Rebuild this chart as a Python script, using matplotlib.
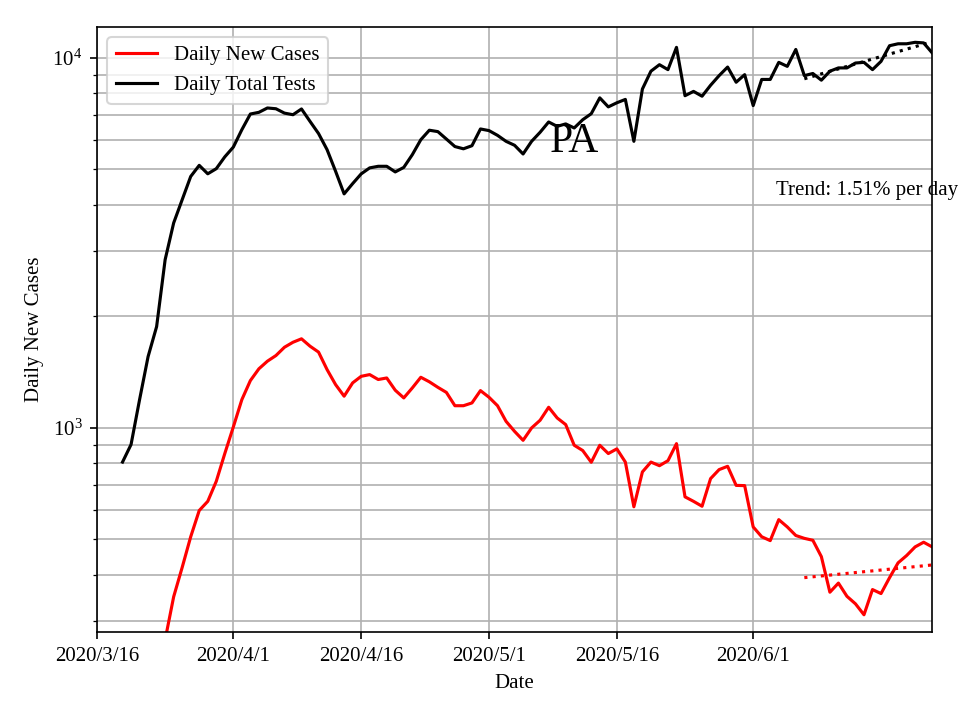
import datetime as dt
import numpy as np
import matplotlib
matplotlib.use('Agg')
import matplotlib.pyplot as plt

plt.rcParams['font.family'] = ['Liberation Serif', 'DejaVu Serif']
plt.rcParams['mathtext.fontset'] = 'stix'

# daily total tests, one value per day starting 2020/3/19
tests_start = dt.date(2020, 3, 19)
tests = [807, 900, 1190, 1556, 1875, 2844, 3574, 4131, 4773, 5115, 4853, 5010, 5393,
         5730, 6385, 7040, 7115, 7310, 7275, 7080, 7010, 7265, 6725, 6235, 5640, 4930,
         4283, 4565, 4850, 5035, 5085, 5085, 4910, 5050, 5465, 6000, 6365, 6310, 6025,
         5750, 5670, 5780, 6415,
         6350, 6165, 5940, 5795, 5490, 5940, 6285, 6700, 6520, 6620, 6455, 6795, 7055,
         7785, 7360, 7550, 7710, 5940, 8225, 9190, 9570, 9280, 10660, 7890, 8105, 7865,
         8420, 8940, 9430, 8580, 8995,
         7420, 8730, 8730, 9710, 9470, 10520, 8940, 9060, 8690, 9190, 9380, 9380, 9670,
         9710, 9280, 9770, 10770, 10900, 10900, 11000, 10960, 10300]

# daily new cases, one value per day starting 2020/3/24
cases_start = dt.date(2020, 3, 24)
cases = [267, 349, 419, 507, 597, 632, 716, 851,
         1004, 1190, 1340, 1442, 1512, 1566, 1649, 1701, 1738, 1660, 1600, 1435, 1307,
         1216, 1321, 1376, 1391, 1349, 1362, 1262, 1203, 1280, 1368, 1330, 1285, 1245,
         1146, 1146, 1166, 1259,
         1208, 1146, 1040, 977, 924, 998, 1047, 1135, 1062, 1019, 896, 867, 806, 896,
         851, 876, 807, 611, 759, 807, 789, 814, 905, 650, 632, 613, 728, 770, 786, 698,
         697,
         539, 507, 495, 564, 539, 511, 502, 496, 448, 359, 380, 350, 334, 312, 365, 356,
         393, 431, 451, 476, 490, 476]

tick_dates = [dt.date(2020, 3, 16), dt.date(2020, 4, 1), dt.date(2020, 4, 16),
              dt.date(2020, 5, 1), dt.date(2020, 5, 16), dt.date(2020, 6, 1)]
tick_labels = ['2020/3/16', '2020/4/1', '2020/4/16', '2020/5/1', '2020/5/16', '2020/6/1']

trend_days = 16

test_dates = [tests_start + dt.timedelta(days=i) for i in range(len(tests))]
case_dates = [cases_start + dt.timedelta(days=i) for i in range(len(cases))]


def trend(dates, values, n):
    d = dates[-n:]
    x = np.arange(n)
    k, b = np.polyfit(x, np.log(values[-n:]), 1)
    return d, np.exp(k * x + b)


fig, ax = plt.subplots(figsize=(6.4, 4.8), dpi=150)
fig.subplots_adjust(left=0.101, right=0.971, top=0.9625, bottom=0.122)

ax.plot(case_dates, cases, color='red', lw=1.5, label='Daily New Cases')
ax.plot(test_dates, tests, color='black', lw=1.5, label='Daily Total Tests')

td, tv = trend(case_dates, cases, trend_days)
ax.plot(td, tv, color='red', ls=':', lw=1.5)
td, tv = trend(test_dates, tests, trend_days)
ax.plot(td, tv, color='black', ls=':', lw=1.5)

ax.set_yscale('log')
ax.set_ylim(280, 12100)
ax.set_xlim(dt.date(2020, 3, 16), test_dates[-1])
ax.set_xticks(tick_dates)
ax.set_xticklabels(tick_labels)
ax.grid(True, which='both', color='#b0b0b0', lw=0.8)
ax.set_axisbelow(True)

ax.set_xlabel('Date')
ax.set_ylabel('Daily New Cases')
ax.text(0.572, 0.81, 'PA', transform=ax.transAxes, fontsize=20, ha='center', va='center')
ax.text(0.813, 0.73, 'Trend: 1.51% per day', transform=ax.transAxes, fontsize=10,
        ha='left', va='center', clip_on=False)
ax.legend(loc='upper left')

fig.savefig('out.png', dpi=150)
